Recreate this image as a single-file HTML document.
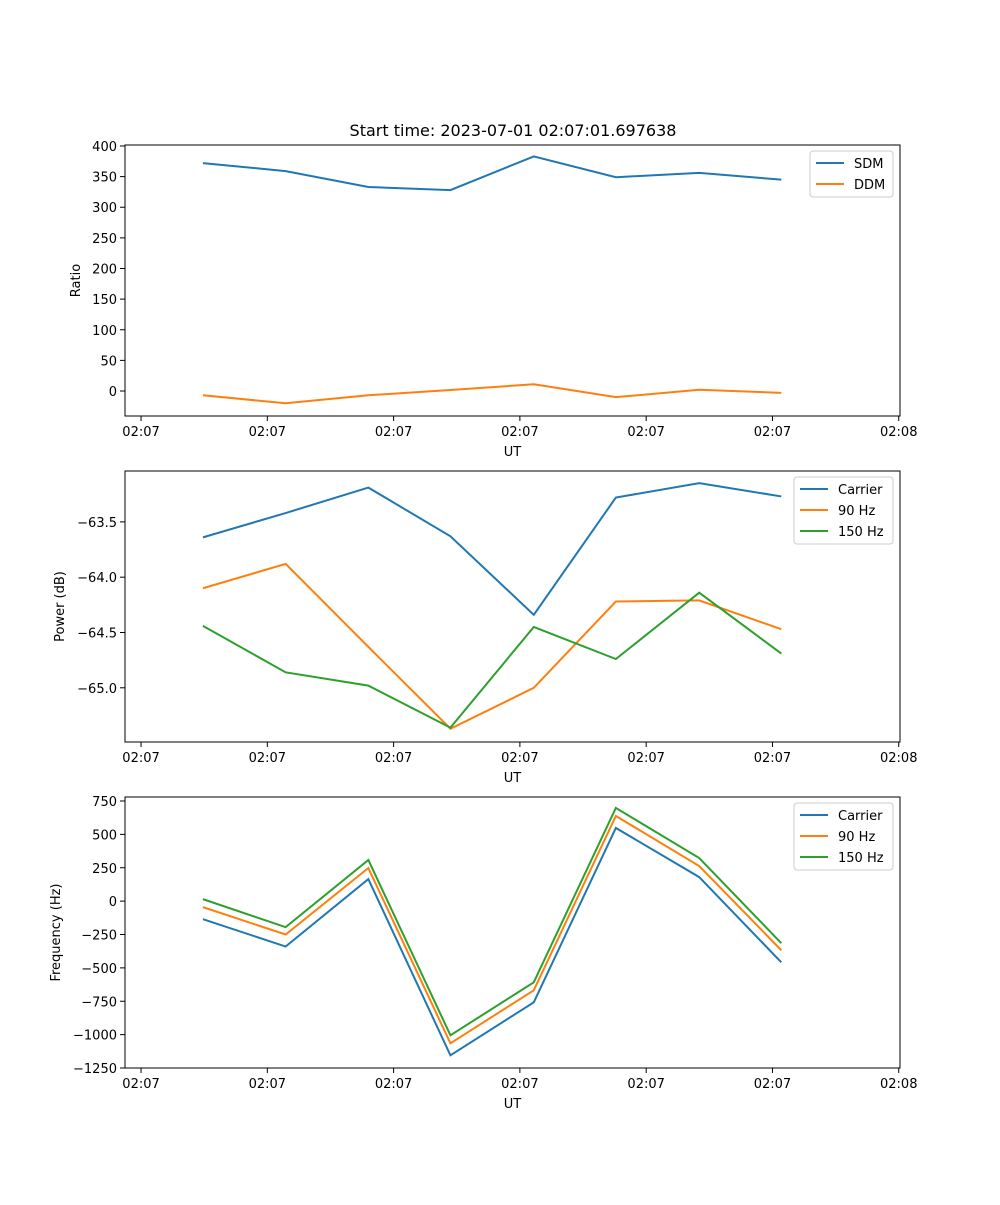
<!DOCTYPE html>
<html><head><meta charset="utf-8"><style>
body{margin:0;background:#fff;}
svg text{font-family:"DejaVu Sans","Liberation Sans",sans-serif;fill:#000;}
</style></head><body>
<svg id="fig" width="1000" height="1200" viewBox="0 0 1000 1200" xmlns="http://www.w3.org/2000/svg">
<rect width="1000" height="1200" fill="#fff"/>
<text x="513" y="136" font-size="16" text-anchor="middle">Start time: 2023-07-01 02:07:01.697638</text>
</svg>
<script>
const times = [4.9, 11.45, 18.0, 24.5, 31.1, 37.6, 44.2, 50.7];
const xTicks = [0, 10, 20, 30, 40, 50, 60];
const xTickLabels = ["02:07","02:07","02:07","02:07","02:07","02:07","02:08"];
const sdm = [372, 359, 333, 328, 383, 349, 356, 345];
const ddm = [-7, -20, -7, 1.6, 11, -10, 2, -3];
const powCarrier = [-63.64, -63.42, -63.19, -63.63, -64.34, -63.28, -63.15, -63.27];
const pow90 = [-64.10, -63.88, -64.63, -65.37, -65.0, -64.22, -64.21, -64.47];
const pow150 = [-64.44, -64.86, -64.98, -65.36, -64.45, -64.74, -64.14, -64.69];
const freqCarrier = [-135, -340, 165, -1155, -758, 548, 180, -458];
const freq90 = [-45, -250, 248, -1065, -668, 638, 263, -368];
const freq150 = [15, -195, 308, -1005, -608, 698, 323, -315];
const ratioTicks = [0, 50, 100, 150, 200, 250, 300, 350, 400];
const powTicks = [-63.5, -64.0, -64.5, -65.0];
const freqTicks = [750, 500, 250, 0, -250, -500, -750, -1000, -1250];

const NS = "http://www.w3.org/2000/svg";
const svg = document.getElementById("fig");
function mk(tag, attrs, parent){const e=document.createElementNS(NS,tag);for(const k in attrs)e.setAttribute(k,attrs[k]);(parent||svg).appendChild(e);return e;}
function fmt(v,dec){return (v<0?"\u2212":"")+Math.abs(v).toFixed(dec);}

function panel(opt){
  const L=125,R=900,T=opt.top,B=opt.top+271;
  const xmin=-1.27,xmax=60.1;
  const sx=v=>L+(v-xmin)/(xmax-xmin)*(R-L);
  const sy=v=>B-(v-opt.ymin)/(opt.ymax-opt.ymin)*(B-T);
  const g=mk("g",{});
  
  
  const colors=["#1f77b4","#ff7f0e","#2ca02c"];
  opt.series.forEach((s,i)=>{
    const p=mk("polyline",{points:times.map((t,j)=>sx(t)+","+sy(s[j])).join(" "),fill:"none",stroke:colors[i],"stroke-width":2},g);
    
    
  });
  const fr=mk("rect",{x:L,y:T,width:R-L,height:B-T,fill:"none",stroke:"#000","stroke-width":1},g);
  
  
  xTicks.forEach((t,i)=>{
    const x=sx(t);
    mk("line",{x1:x,x2:x,y1:B,y2:B+5,stroke:"#000","stroke-width":1},g);
    const tx=mk("text",{x:x,y:B+20,"font-size":13,"text-anchor":"middle"},g);
    tx.textContent=xTickLabels[i];
    
    
  });
  opt.yticks.forEach(t=>{
    const y=sy(t);
    mk("line",{x1:L-5,x2:L,y1:y,y2:y,stroke:"#000","stroke-width":1},g);
    const tx=mk("text",{x:L-8,y:y+5,"font-size":13,"text-anchor":"end"},g);
    tx.textContent=fmt(t,opt.dec);
    
    
  });
  const xl=mk("text",{x:(L+R)/2,y:B+40,"font-size":13,"text-anchor":"middle"},g);
  xl.textContent="UT";
  
  
  const yl=mk("text",{x:opt.ylx,y:(T+B)/2,"font-size":13,"text-anchor":"middle",transform:"rotate(-90 "+opt.ylx+" "+(T+B)/2+")"},g);
  yl.textContent=opt.ylabel;
  
  
  const n=opt.labels.length, lw=opt.legW, lx=R-7-lw, ly=T+6, lh=4+n*21;
  const lg=mk("g",{},g);
  
  
  mk("rect",{x:lx,y:ly,width:lw,height:lh,rx:3,fill:"#fff","fill-opacity":0.8,stroke:"#ccc","stroke-width":1},lg);
  opt.labels.forEach((lab,i)=>{
    const y=ly+12+i*21;
    const e=mk("g",{},lg);
    
    
    mk("line",{x1:lx+6,x2:lx+34,y1:y,y2:y,stroke:colors[i],"stroke-width":2},e);
    const tx=mk("text",{x:lx+44,y:y+5,"font-size":13},e);
    tx.textContent=lab;
  });
}
panel({name:"ratio-panel",top:145,ymin:-40.8,ymax:401.6,series:[sdm,ddm],labels:["SDM","DDM"],yticks:ratioTicks,dec:0,ylabel:"Ratio",ylx:80,legW:83});
panel({name:"power-panel",top:471,ymin:-65.49,ymax:-63.04,series:[powCarrier,pow90,pow150],labels:["Carrier","90 Hz","150 Hz"],yticks:powTicks,dec:1,ylabel:"Power (dB)",ylx:64,legW:99});
panel({name:"frequency-panel",top:797,ymin:-1250,ymax:780,series:[freqCarrier,freq90,freq150],labels:["Carrier","90 Hz","150 Hz"],yticks:freqTicks,dec:0,ylabel:"Frequency (Hz)",ylx:60,legW:99});
</script>
</body></html>
